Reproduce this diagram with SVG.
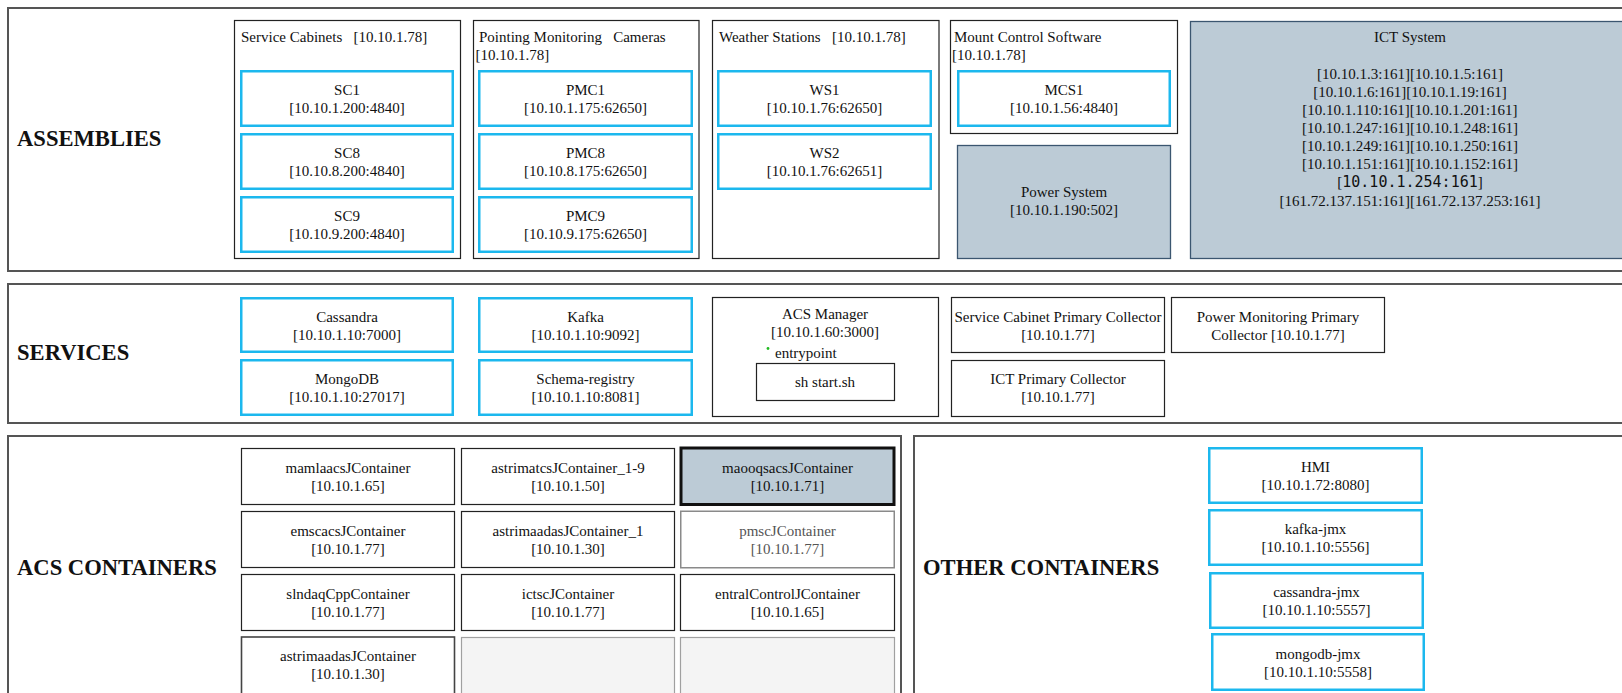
<svg xmlns="http://www.w3.org/2000/svg" width="1622" height="693" viewBox="0 0 1622 693">
<style>
text{font-family:"Liberation Serif","Times New Roman",serif;font-size:15px;fill:#111}
.c{text-anchor:middle}
.h{font-size:22.6px;font-weight:bold}
.pre{white-space:pre}
.sec{fill:#fff;stroke:#555;stroke-width:2}
.grp{fill:#fff;stroke:#222;stroke-width:1.2}
.blue{fill:#fff;stroke:#1cb8ee;stroke-width:2.5}
.slate{fill:#bccbd6;stroke:#3b5670;stroke-width:1.3}
.box{fill:#fff;stroke:#222;stroke-width:1.2}
.dim{fill:#fff;stroke:#8a8a8a;stroke-width:1.5}
.empty{fill:#f4f4f4;stroke:#a0a0a0;stroke-width:1.2}
.sel{fill:#bccbd6;stroke:#111;stroke-width:3}
.mono{font-family:"DejaVu Sans Mono","Liberation Mono",monospace;font-size:15px}
.gt{fill:#555}
</style>

<!-- Sections -->
<g id="sec-assemblies">
<rect class="sec" x="8" y="8" width="1640" height="263"/>
<text class="h" x="17" y="146">ASSEMBLIES</text>
</g>
<g id="sec-services">
<rect class="sec" x="8" y="284" width="1640" height="139"/>
<text class="h" x="17" y="360">SERVICES</text>
</g>
<g id="sec-acs">
<rect class="sec" x="8" y="436" width="893" height="280"/>
<text class="h" x="17" y="575">ACS CONTAINERS</text>
</g>
<g id="sec-other">
<rect class="sec" x="914" y="436" width="730" height="280"/>
<text class="h" x="923" y="575">OTHER CONTAINERS</text>
</g>

<!-- Assemblies groups -->
<g id="grp-sc">
<rect class="grp" x="234.5" y="20.5" width="226" height="238"/>
<text class="pre" x="241" y="42">Service Cabinets   [10.10.1.78]</text>
</g>
<g id="sc1"><rect class="blue" x="241.25" y="71.25" width="211.5" height="54.5"/><text class="c" x="347" y="95">SC1</text><text class="c" x="347" y="113">[10.10.1.200:4840]</text></g>
<g id="sc8"><rect class="blue" x="241.25" y="134.25" width="211.5" height="54.5"/><text class="c" x="347" y="158">SC8</text><text class="c" x="347" y="176">[10.10.8.200:4840]</text></g>
<g id="sc9"><rect class="blue" x="241.25" y="197.25" width="211.5" height="54.5"/><text class="c" x="347" y="221">SC9</text><text class="c" x="347" y="239">[10.10.9.200:4840]</text></g>

<g id="grp-pmc">
<rect class="grp" x="473.5" y="20.5" width="225.5" height="238"/>
<text class="pre" x="479" y="42">Pointing Monitoring   Cameras</text>
<text x="475.5" y="60">[10.10.1.78]</text>
</g>
<g id="pmc1"><rect class="blue" x="479.25" y="71.25" width="212.5" height="54.5"/><text class="c" x="585.5" y="95">PMC1</text><text class="c" x="585.5" y="113">[10.10.1.175:62650]</text></g>
<g id="pmc8"><rect class="blue" x="479.25" y="134.25" width="212.5" height="54.5"/><text class="c" x="585.5" y="158">PMC8</text><text class="c" x="585.5" y="176">[10.10.8.175:62650]</text></g>
<g id="pmc9"><rect class="blue" x="479.25" y="197.25" width="212.5" height="54.5"/><text class="c" x="585.5" y="221">PMC9</text><text class="c" x="585.5" y="239">[10.10.9.175:62650]</text></g>

<g id="grp-ws">
<rect class="grp" x="712.5" y="20.5" width="226.5" height="238"/>
<text class="pre" x="719" y="42">Weather Stations   [10.10.1.78]</text>
</g>
<g id="ws1"><rect class="blue" x="718.25" y="71.25" width="212.5" height="54.5"/><text class="c" x="824.5" y="95">WS1</text><text class="c" x="824.5" y="113">[10.10.1.76:62650]</text></g>
<g id="ws2"><rect class="blue" x="718.25" y="134.25" width="212.5" height="54.5"/><text class="c" x="824.5" y="158">WS2</text><text class="c" x="824.5" y="176">[10.10.1.76:62651]</text></g>

<g id="grp-mcs">
<rect class="grp" x="950.5" y="20.5" width="227" height="113"/>
<text x="954" y="42">Mount Control Software</text>
<text x="952" y="60">[10.10.1.78]</text>
</g>
<g id="mcs1"><rect class="blue" x="958.25" y="71.25" width="211.5" height="54.5"/><text class="c" x="1064" y="95">MCS1</text><text class="c" x="1064" y="113">[10.10.1.56:4840]</text></g>

<g id="power"><rect class="slate" x="957.5" y="145.5" width="213" height="113"/><text class="c" x="1064" y="197">Power System</text><text class="c" x="1064" y="215">[10.10.1.190:502]</text></g>

<g id="ict">
<rect class="slate" x="1190.5" y="21.5" width="460" height="237"/>
<text class="c" x="1410" y="42">ICT System</text>
<text class="c" x="1410" y="79">[10.10.1.3:161][10.10.1.5:161]</text>
<text class="c" x="1410" y="97">[10.10.1.6:161][10.10.1.19:161]</text>
<text class="c" x="1410" y="115">[10.10.1.110:161][10.10.1.201:161]</text>
<text class="c" x="1410" y="133">[10.10.1.247:161][10.10.1.248:161]</text>
<text class="c" x="1410" y="151">[10.10.1.249:161][10.10.1.250:161]</text>
<text class="c" x="1410" y="169">[10.10.1.151:161][10.10.1.152:161]</text>
<text class="c" x="1410" y="187">[<tspan class="mono">10.10.1.254:161</tspan>]</text>
<text class="c" x="1410" y="206">[161.72.137.151:161][161.72.137.253:161]</text>
</g>

<!-- Services -->
<g id="cassandra"><rect class="blue" x="241.25" y="298.25" width="211.5" height="53.5"/><text class="c" x="347" y="321.5">Cassandra</text><text class="c" x="347" y="339.5">[10.10.1.10:7000]</text></g>
<g id="mongodb"><rect class="blue" x="241.25" y="360.25" width="211.5" height="54.5"/><text class="c" x="347" y="384">MongoDB</text><text class="c" x="347" y="402">[10.10.1.10:27017]</text></g>
<g id="kafka"><rect class="blue" x="479.25" y="298.25" width="212.5" height="53.5"/><text class="c" x="585.5" y="321.5">Kafka</text><text class="c" x="585.5" y="339.5">[10.10.1.10:9092]</text></g>
<g id="schema"><rect class="blue" x="479.25" y="360.25" width="212.5" height="54.5"/><text class="c" x="585.5" y="384">Schema-registry</text><text class="c" x="585.5" y="402">[10.10.1.10:8081]</text></g>

<g id="acsmanager">
<rect class="box" x="712.5" y="297.5" width="226" height="119"/>
<text class="c" x="825" y="319">ACS Manager</text>
<text class="c" x="825" y="337">[10.10.1.60:3000]</text>
<circle cx="768" cy="348.5" r="1.4" fill="#22bb22"/>
<text x="775" y="358">entrypoint</text>
<rect class="box" x="756.5" y="363.5" width="138" height="37"/>
<text class="c" x="825" y="387">sh start.sh</text>
</g>
<g id="scpc"><rect class="box" x="951.5" y="297.5" width="213" height="55"/><text class="c" x="1058" y="321.5">Service Cabinet Primary Collector</text><text class="c" x="1058" y="339.5">[10.10.1.77]</text></g>
<g id="ictpc"><rect class="box" x="951.5" y="360.5" width="213" height="56"/><text class="c" x="1058" y="384">ICT Primary Collector</text><text class="c" x="1058" y="402">[10.10.1.77]</text></g>
<g id="pmpc"><rect class="box" x="1171.5" y="297.5" width="213" height="55"/><text class="c" x="1278" y="321.5">Power Monitoring Primary</text><text class="c" x="1278" y="339.5">Collector [10.10.1.77]</text></g>

<!-- ACS containers -->
<g id="mamlaacs"><rect class="box" x="241.5" y="448.5" width="213" height="56"/><text class="c" x="348" y="472.5">mamlaacsJContainer</text><text class="c" x="348" y="490.5">[10.10.1.65]</text></g>
<g id="astrimatcs"><rect class="box" x="461.5" y="448.5" width="213" height="56"/><text class="c" x="568" y="472.5">astrimatcsJContainer_1-9</text><text class="c" x="568" y="490.5">[10.10.1.50]</text></g>
<g id="maooqsacs"><rect class="sel" x="681" y="448" width="213" height="56.5"/><text class="c" x="787.5" y="472.5">maooqsacsJContainer</text><text class="c" x="787.5" y="490.5">[10.10.1.71]</text></g>

<g id="emscacs"><rect class="box" x="241.5" y="511.5" width="213" height="56"/><text class="c" x="348" y="535.5">emscacsJContainer</text><text class="c" x="348" y="553.5">[10.10.1.77]</text></g>
<g id="astrimaadas1"><rect class="box" x="461.5" y="511.5" width="213" height="56"/><text class="c" x="568" y="535.5">astrimaadasJContainer_1</text><text class="c" x="568" y="553.5">[10.10.1.30]</text></g>
<g id="pmsc"><rect class="dim" x="680.75" y="511.25" width="213.5" height="56.5"/><text class="c gt" x="787.5" y="535.5">pmscJContainer</text><text class="c gt" x="787.5" y="553.5">[10.10.1.77]</text></g>

<g id="slndaq"><rect class="box" x="241.5" y="574.5" width="213" height="56"/><text class="c" x="348" y="598.5">slndaqCppContainer</text><text class="c" x="348" y="616.5">[10.10.1.77]</text></g>
<g id="ictsc"><rect class="box" x="461.5" y="574.5" width="213" height="56"/><text class="c" x="568" y="598.5">ictscJContainer</text><text class="c" x="568" y="616.5">[10.10.1.77]</text></g>
<g id="entral"><rect class="box" x="680.5" y="574.5" width="214" height="56"/><text class="c" x="787.5" y="598.5">entralControlJContainer</text><text class="c" x="787.5" y="616.5">[10.10.1.65]</text></g>

<g id="astrimaadas"><rect class="box" x="241.5" y="637" width="213" height="60" style="stroke:#444;stroke-width:1.6"/><text class="c" x="348" y="661">astrimaadasJContainer</text><text class="c" x="348" y="679">[10.10.1.30]</text></g>
<g id="empty1"><rect class="empty" x="461.5" y="637.5" width="213" height="60"/></g>
<g id="empty2"><rect class="empty" x="680.5" y="637.5" width="214" height="60"/></g>

<!-- Other containers -->
<g id="hmi"><rect class="blue" x="1209.25" y="448.25" width="212.5" height="54.5"/><text class="c" x="1315.5" y="472">HMI</text><text class="c" x="1315.5" y="490">[10.10.1.72:8080]</text></g>
<g id="kafkajmx"><rect class="blue" x="1209.25" y="510.25" width="212.5" height="54.5"/><text class="c" x="1315.5" y="534">kafka-jmx</text><text class="c" x="1315.5" y="552">[10.10.1.10:5556]</text></g>
<g id="cassandrajmx"><rect class="blue" x="1210.25" y="573.25" width="212.5" height="54.5"/><text class="c" x="1316.5" y="597">cassandra-jmx</text><text class="c" x="1316.5" y="615">[10.10.1.10:5557]</text></g>
<g id="mongodbjmx"><rect class="blue" x="1212.25" y="634.25" width="211.5" height="55.5"/><text class="c" x="1318" y="658.5">mongodb-jmx</text><text class="c" x="1318" y="676.5">[10.10.1.10:5558]</text></g>

<g id="connectors"></g>
</svg>
